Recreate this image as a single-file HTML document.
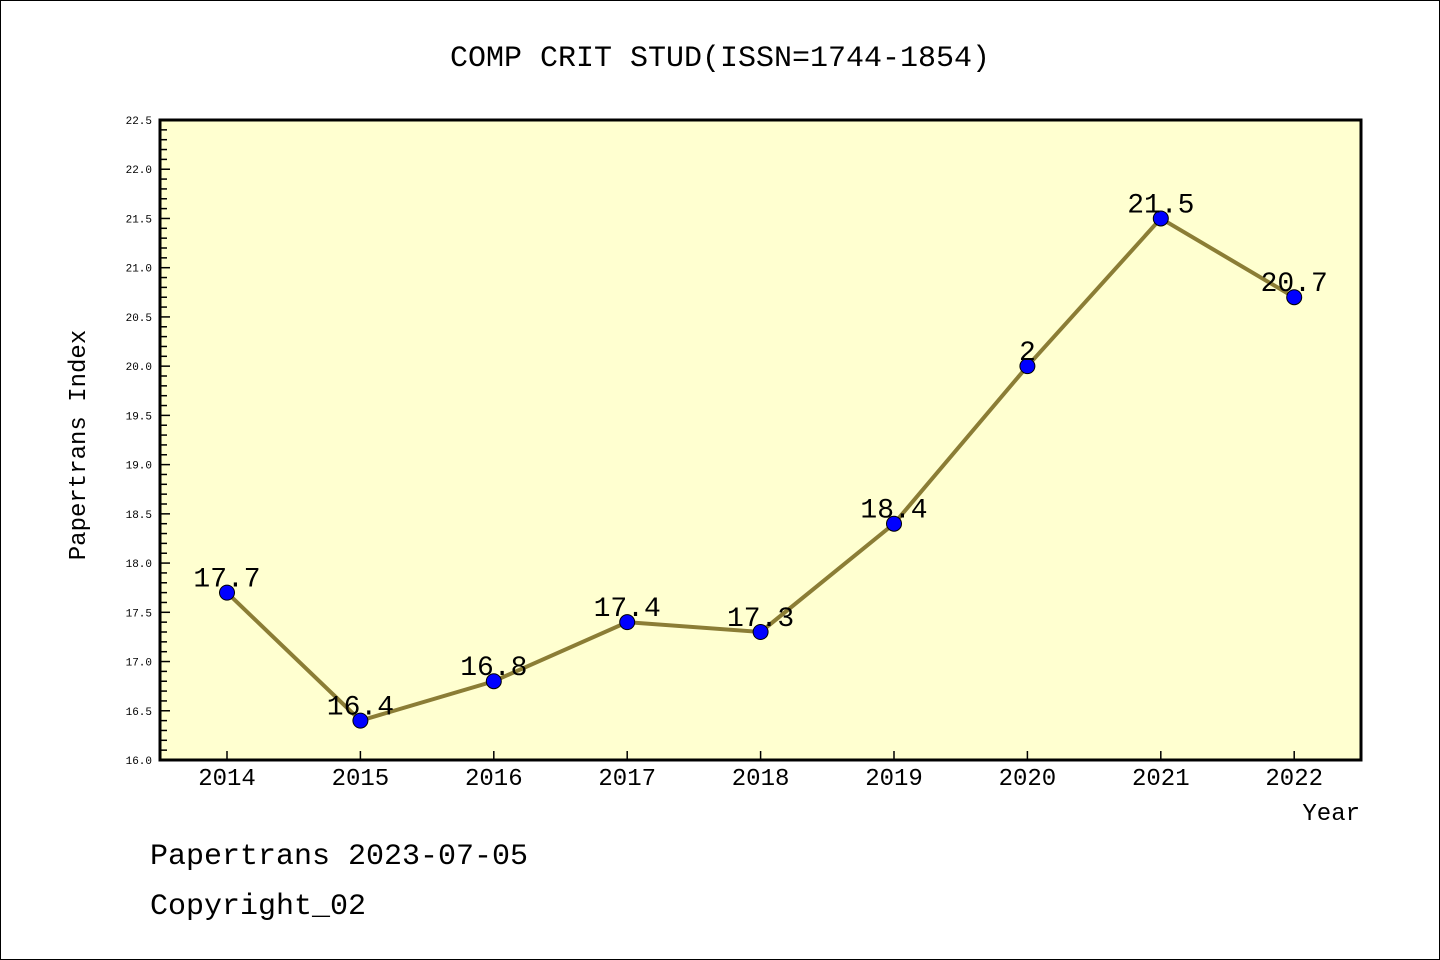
<!DOCTYPE html>
<html><head><meta charset="utf-8"><style>
body{margin:0;background:#fff}
svg{display:block}
text{font-family:"Liberation Mono","DejaVu Sans Mono",monospace}
</style></head><body>
<svg id="chart" width="1440" height="960">
<rect x="0.5" y="0.5" width="1439" height="959" fill="#fff" stroke="#000"/>
<text x="720" y="66" text-anchor="middle" font-size="30">COMP CRIT STUD(ISSN=1744-1854)</text>
<rect x="160" y="120" width="1201" height="640" fill="#ffffd0"/>
<g id="yaxis"></g>
<g id="xaxis"></g>
<g id="series"></g>
<rect x="160" y="120" width="1201" height="640" fill="none" stroke="#000" stroke-width="3"/>
<text transform="translate(85,445) rotate(-90)" text-anchor="middle" font-size="24">Papertrans Index</text>
<text x="1360" y="820" text-anchor="end" font-size="24">Year</text>
<text x="150" y="864" font-size="30">Papertrans 2023-07-05</text>
<text x="150" y="914" font-size="30">Copyright_02</text>
</svg>
<script>
const years=[2014,2015,2016,2017,2018,2019,2020,2021,2022];
const values=[17.7,16.4,16.8,17.4,17.3,18.4,20.0,21.5,20.7];
const pointLabels=["17.7","16.4","16.8","17.4","17.3","18.4","2","21.5","20.7"];
const yTicks=["16.0","16.5","17.0","17.5","18.0","18.5","19.0","19.5","20.0","20.5","21.0","21.5","22.0","22.5"];
(function(){
const NS="http://www.w3.org/2000/svg";
const yMin=16,yMax=22.5,plotTop=120,plotBot=760,plotLeft=160;
function yS(v){return plotBot-(v-yMin)/(yMax-yMin)*(plotBot-plotTop);}
function xS(i){return 227+i*133.4;}
function mk(tag,attrs,parent){const e=document.createElementNS(NS,tag);for(const k in attrs)e.setAttribute(k,attrs[k]);parent.appendChild(e);return e;}
const ya=document.getElementById('yaxis'),xa=document.getElementById('xaxis'),se=document.getElementById('series');
for(let k=0;k<=65;k++){const v=yMin+k*0.1;const major=k%5===0;
 const t=mk('line',{x1:plotLeft,x2:plotLeft+(major?10:7),y1:yS(v),y2:yS(v),stroke:'#000','stroke-width':1.5},ya);
 
 }
yTicks.forEach(s=>{const t=mk('text',{x:152,y:yS(parseFloat(s))+4,'text-anchor':'end','font-size':11,'font-family':'DejaVu Sans, sans-serif'},ya);t.textContent=s;
 
 });
years.forEach((yr,i)=>{const l=mk('line',{x1:xS(i),x2:xS(i),y1:plotBot,y2:plotBot-9,stroke:'#000','stroke-width':1.5},xa);
 
 
 const t=mk('text',{x:xS(i),y:785,'text-anchor':'middle','font-size':24,'font-family':'DejaVu Sans, sans-serif'},xa);t.textContent=yr;
 
 });
const pl=mk('polyline',{points:values.map((v,i)=>xS(i)+','+yS(v)).join(' '),fill:'none',stroke:'#8b7d35','stroke-width':4},se);


values.forEach((v,i)=>{const c=mk('circle',{cx:xS(i),cy:yS(v),r:7.5,fill:'#0000ff',stroke:'#000','stroke-width':1},se);
 
 
 const t=mk('text',{x:xS(i),y:yS(v)-6,'text-anchor':'middle','font-size':28,'font-family':'DejaVu Sans, sans-serif'},se);t.textContent=pointLabels[i];
 
 });
})();
</script>
</body></html>
